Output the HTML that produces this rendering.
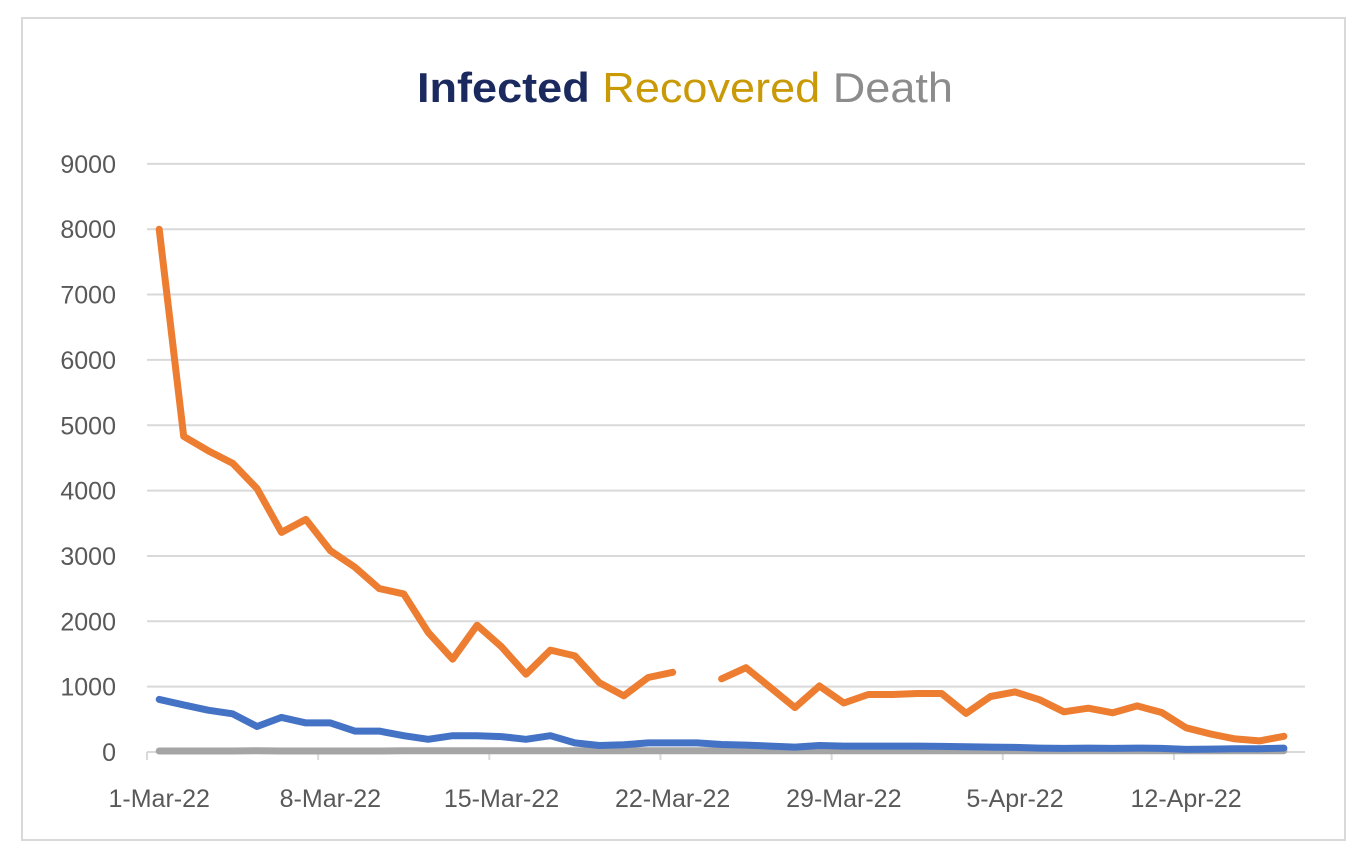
<!DOCTYPE html>
<html><head><meta charset="utf-8"><style>
html,body{margin:0;padding:0;background:#fff;}
svg{display:block;font-family:"Liberation Sans",sans-serif;}
</style></head><body>
<svg id="chart" width="1367" height="865">
<rect x="22" y="18" width="1323" height="822" fill="#fff" stroke="#d9d9d9" stroke-width="2"/>
<text x="685" y="102" text-anchor="middle" font-size="42" textLength="536" lengthAdjust="spacingAndGlyphs"><tspan fill="#1a2a5e" font-weight="bold">Infected</tspan><tspan fill="#c99a06"> Recovered</tspan><tspan fill="#8c8c8c"> Death</tspan></text>
<g id="grid"></g><g id="ylabels"></g><g id="xaxis"></g><g id="series"></g>
</svg>
<script>
const yTicks=[0,1000,2000,3000,4000,5000,6000,7000,8000,9000];
const xTickLabels=["1-Mar-22","8-Mar-22","15-Mar-22","22-Mar-22","29-Mar-22","5-Apr-22","12-Apr-22"];
const recovered=[8000,4830,4610,4420,4030,3360,3560,3080,2830,2500,2420,1830,1420,1940,1610,1190,1560,1470,1060,860,1140,1220,null,1120,1290,985,680,1010,750,880,880,895,895,590,850,920,800,615,670,600,705,605,370,275,200,170,240];
const infected=[805,720,640,585,390,530,445,445,320,320,250,195,250,250,235,195,250,140,100,110,140,140,140,115,105,90,75,100,90,90,90,90,85,80,75,70,60,55,60,55,60,55,40,45,50,50,60];
const death=[15,15,15,15,20,15,15,15,15,15,20,20,20,20,20,20,20,20,20,20,20,20,20,20,20,20,20,20,20,20,20,20,20,20,20,20,20,20,20,20,20,20,20,20,20,20,20];
const NS="http://www.w3.org/2000/svg";
const x0=147,dx=24.45,yBase=752,yPer=65.35/1000;
const xs=i=>x0+(i+0.5)*dx;
const ys=v=>yBase-v*yPer;
function mk(tag,attrs,parent){const e=document.createElementNS(NS,tag);for(const k in attrs)e.setAttribute(k,attrs[k]);parent.appendChild(e);return e;}
const grid=document.getElementById('grid'),yl=document.getElementById('ylabels'),xa=document.getElementById('xaxis'),se=document.getElementById('series');
yTicks.forEach(v=>{
 if(v>0){const l=mk('line',{x1:147,x2:1305,y1:ys(v),y2:ys(v),stroke:'#d9d9d9','stroke-width':2},grid);
 
 }
 const t=mk('text',{x:116,y:ys(v)+9,'text-anchor':'end','font-size':25,fill:'#595959'},yl);
 t.textContent=v;
 
 
});
const ax=mk('line',{x1:147,x2:1305,y1:yBase,y2:yBase,stroke:'#d9d9d9','stroke-width':2},xa);


xTickLabels.forEach((lab,k)=>{
 const tx=x0+k*7*dx;
 const tk=mk('line',{x1:tx,x2:tx,y1:yBase,y2:yBase+8,stroke:'#d9d9d9','stroke-width':2},xa);
 
 
 const t=mk('text',{x:xs(k*7),y:807,'text-anchor':'middle','font-size':25,fill:'#595959'},xa);
 t.textContent=lab;
 
 
});
function draw(arr,color,name){
 let d='',pen=false;
 arr.forEach((v,i)=>{if(v==null){pen=false;return;}d+=(pen?'L':'M')+xs(i).toFixed(1)+' '+ys(v).toFixed(1)+' ';pen=true;});
 const p=mk('path',{d:d,fill:'none',stroke:color,'stroke-width':7,'stroke-linejoin':'round','stroke-linecap':'round'},se);
 
 
}
draw(death,'#a5a5a5','death-line');
draw(infected,'#4472c4','infected-line');
draw(recovered,'#ed7d31','recovered-line');
</script>
</body></html>
